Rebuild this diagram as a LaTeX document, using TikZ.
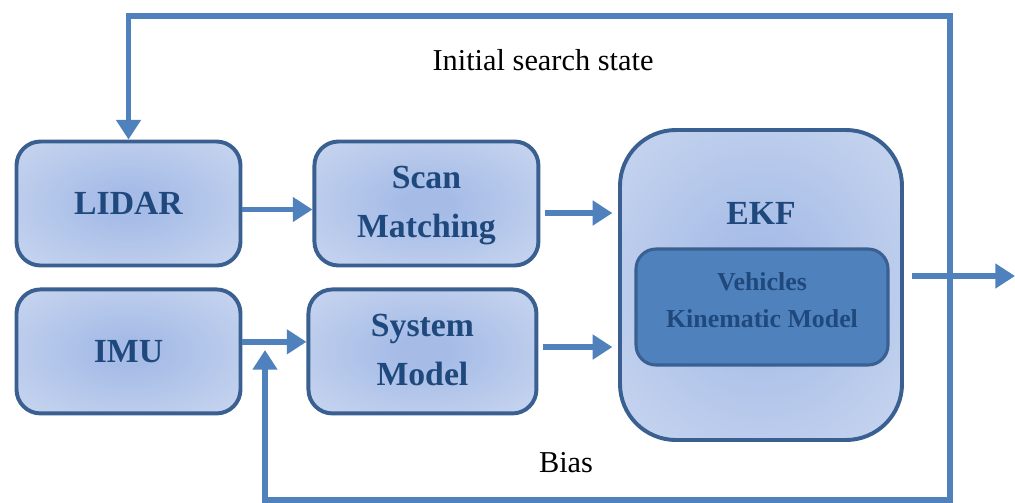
\documentclass[tikz,border=0pt]{standalone}
\usepackage{fontspec}
\setmainfont{Liberation Serif}
\usetikzlibrary{arrows.meta,positioning,calc}
\definecolor{edgeblue}{RGB}{57,96,145}
\definecolor{flowblue}{RGB}{79,129,189}
\definecolor{textblue}{RGB}{31,73,125}
\definecolor{glowin}{RGB}{166,188,231}
\definecolor{glowout}{RGB}{217,226,243}
\pgfdeclareradialshading{boxglow}{\pgfpoint{0bp}{0bp}}{%
  color(0bp)=(glowin); color(6bp)=(glowin); color(50bp)=(glowout); color(75bp)=(glowout)}
\tikzset{
  font=\fontsize{24}{35}\selectfont\bfseries,
  box/.style={
    draw=edgeblue,
    line width=2.8pt,
    rounded corners=0.6cm,
    shading=boxglow,
    text=textblue,
    align=center,
    minimum width=5.6cm,
    minimum height=3.1cm,
    inner sep=0pt
  },
  bigbox/.style={
    box,
    rounded corners=1.4cm,
    minimum width=7.05cm,
    minimum height=7.75cm
  },
  modelbox/.style={
    draw=edgeblue,
    line width=2.2pt,
    rounded corners=0.5cm,
    fill=flowblue,
    text=textblue,
    align=center,
    minimum width=6.3cm,
    minimum height=2.9cm,
    font=\fontsize{18.4}{27}\selectfont\bfseries
  },
  tag/.style={font=\fontsize{21.6}{26}\selectfont, text=black},
  arrow/.style={-{Triangle[length=14pt,width=17pt]}, line width=4.2pt, draw=flowblue},
  line/.style={line width=4.2pt, draw=flowblue}
}

\begin{document}
\begin{tikzpicture}
\useasboundingbox (0,0) rectangle (25.375,-12.55);

\node[box] (lidar) at (3.2125,-5.0875) {LIDAR};
\node[box, below=0.5cm of lidar] (imu) {IMU};
\node[box, right=1.75cm of lidar, text depth=0.1cm] (scan) {Scan\\Matching};
\node[box, right=1.6cm of imu, minimum width=5.7cm, text depth=0.1cm] (system) {System\\Model};

% EKF block with the model inside
\node[bigbox] (ekf) at (19.025,-7.125) {};
\node (ekftitle) at (19.025,-5.325) {\textcolor{textblue}{EKF}};
\node[modelbox, text depth=0.35cm] (model) at (19.05,-7.675) {Vehicles\\Kinematic Model};

% Feedback corners and free ends
\coordinate (out) at (25.375,-6.9);
\coordinate (tap) at (23.75,-6.9);
\coordinate (top) at (0,-0.4);
\coordinate (bot) at (0,-12.5);
\coordinate (biasend) at (6.625,-8.75);

% Arrows main flow
\draw[arrow] ([yshift=-0.15cm]lidar.east) -- ([yshift=-0.15cm]lidar.east -| scan.west);
\draw[arrow, shorten <=3pt, shorten >=4pt] (scan.east |- ekftitle) -- (ekf.west |- ekftitle);
\draw[arrow] ([yshift=0.24cm]imu.east) -- ([yshift=0.24cm]imu.east -| system.west);
\draw[arrow, shorten <=3pt, shorten >=4pt] ([yshift=0.11cm]system.east) -- ([yshift=0.11cm]system.east -| ekf.west);
\draw[arrow, shorten <=6pt] (ekf.east |- out) -- (out);

% Feedback loops
\draw[arrow] (tap) -- (tap |- top) -| (lidar.north);
\draw[arrow] (tap) -- (tap |- bot) -| (biasend);

\node[tag] (initlbl) at (13.575,-1.5) {Initial search state};
\node[tag] (biaslbl) at (14.15,-11.575) {Bias};

\end{tikzpicture}
\end{document}
